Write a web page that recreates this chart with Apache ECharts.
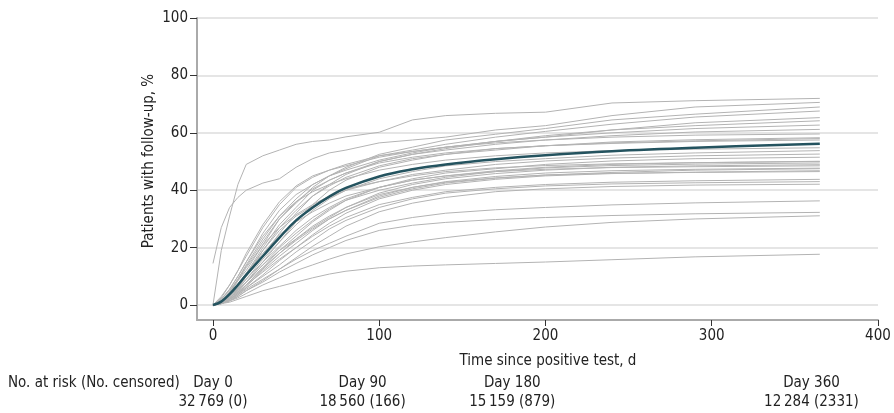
<!DOCTYPE html>
<html>
<head>
<meta charset="utf-8">
<script src="https://cdn.jsdelivr.net/npm/echarts@6/dist/echarts.min.js"></script>
<style>
html, body { margin: 0; padding: 0; background: #fff; }
#chart { width: 894px; height: 413px; }
</style>
</head>
<body>
<div id="chart"></div>
<script>
// days at which each curve is read
var days = [0, 5, 10, 15, 20, 30, 40, 50, 60, 70, 80, 100, 120, 140, 170, 200, 240, 290, 365];

// overall cumulative incidence (bold line)
var meanCurve = [0, 1.2, 3.8, 7, 10.5, 17, 23.5, 29.5, 34, 37.8, 40.8, 44.8, 47.3, 49, 50.8, 52.2, 53.6, 54.8, 56.2];

// individual site curves (grey)
var greyCurves = [
  [0, 19, 31, 42, 49, 52, 54, 56, 57, 57.5, 58.6, 60.2, 64.5, 66, 66.8, 67.2, 70.4, 71.2, 72],
  [14.5, 27, 34, 37.5, 40, 42.5, 44, 48, 51, 53, 54, 56.5, 57.5, 58.5, 61, 62.5, 66, 69, 70.6],
  [0, 2, 5, 9, 14, 23, 31, 37, 42, 45, 48, 52.5, 55, 57.5, 59.5, 61.5, 64.5, 66.5, 69],
  [0, 1.5, 4, 8.5, 12, 21, 30, 35.5, 41, 45, 47.5, 52, 54, 56, 58.5, 60.5, 63, 65.5, 67.6],
  [0, 3, 7, 12, 17, 27, 35, 41, 44.5, 47, 49, 52, 53.5, 55, 57, 58.5, 61, 63.5, 65.3],
  [0, 1, 3, 6, 10, 17, 25, 32, 38, 42, 45.5, 50, 52.5, 54.5, 57, 59, 61, 62.5, 64.2],
  [0, 2, 5.5, 10, 15, 25, 33, 38.5, 42, 45, 47, 50.5, 53, 55, 57, 58.5, 60, 61.5, 62.7],
  [0, 1, 3.5, 7, 11, 20, 28, 34, 40, 43.5, 46, 50, 52.5, 54, 56, 57.5, 59, 60.3, 61.2],
  [0, 2.5, 7, 12, 18, 28, 36, 41.5, 45, 47, 48.5, 51.5, 53.5, 55, 56.5, 57.5, 58.5, 59.2, 59.6],
  [0, 1, 2.5, 5, 8, 15, 22, 29, 35, 40, 43.5, 48, 50.5, 52.5, 54.5, 55.5, 56.8, 57.6, 58.3],
  [0, 1.5, 4.5, 9, 13.5, 22, 30, 36, 40.5, 43.5, 46, 49.5, 51.5, 53, 54.5, 55.5, 56.3, 57, 57.5],
  [0, 1, 3, 6, 10, 19, 27, 33, 38, 41.5, 44.5, 48.5, 51, 52.5, 54, 55.5, 56.5, 57.2, 58],
  [0, 1, 3, 6, 9, 16, 22, 28, 33, 37, 40, 44, 46.5, 48.5, 50, 51, 52.2, 53, 53.8],
  [0, 1.5, 4, 7.5, 11, 19, 26, 31, 34.5, 37.5, 40, 43, 45.5, 47, 49, 50.2, 51.2, 52, 52.6],
  [0, 0.5, 2, 4.5, 7, 13, 19, 24, 29, 33, 36.5, 41, 44, 46, 47.5, 49, 50.2, 51, 51.5],
  [0, 1, 3, 5.5, 9, 15, 20.5, 26, 30.5, 34, 37, 41, 43.5, 45, 46.8, 48, 49, 49.6, 50.1],
  [0, 0.5, 2.5, 5, 8, 14, 19, 23, 27, 30.5, 34, 39, 42, 44, 45.8, 47, 48, 48.5, 48.9],
  [0, 1, 3, 5.5, 8, 13, 18, 22.5, 26.5, 30, 33, 38, 41, 43, 44.8, 46, 46.8, 47.3, 47.7],
  [0, 0.5, 1.5, 3.5, 6, 10.5, 15.5, 20, 24.5, 28.5, 32, 37, 40, 42, 43.8, 45, 45.8, 46.3, 46.8],
  [0, 1, 2.5, 4.5, 7, 11.5, 16, 20, 24, 27.5, 30.5, 35, 37.5, 39.5, 41, 42, 42.8, 43.3, 43.8],
  [0, 0.5, 2, 4, 6, 10, 14, 18.5, 22.5, 26.5, 29.5, 34, 37, 39, 40.5, 41.5, 42.2, 42.6, 43],
  [0, 0.5, 1.5, 3, 5, 8.5, 12.5, 16.5, 20.5, 24, 27.5, 32.5, 35.5, 37.5, 39.5, 40.5, 41.3, 41.8, 42.1],
  [0, 1.5, 4.5, 8.5, 13, 21, 27, 31.5, 35, 38, 40.5, 43, 45, 46.5, 47.8, 48.6, 49.2, 49.6, 50],
  [0, 1, 3.5, 7, 11, 18, 24.5, 29, 32.5, 35.5, 38, 41, 43.5, 45, 46.5, 47.3, 47.9, 48.2, 48.5],
  [0, 0.5, 2, 4, 7, 12.5, 18, 23, 27.5, 31, 34, 38.5, 41, 42.8, 44.3, 45.3, 45.9, 46.2, 46.5],
  [0, 1, 2.5, 5, 8, 14, 20, 25, 29.5, 33.5, 36.5, 40, 42.5, 44.5, 46.5, 47.8, 48.6, 49.1, 49.5],
  [0, 2, 5.5, 10, 15, 24, 31, 36, 39.5, 42, 44, 47, 49, 50.5, 52, 53, 53.8, 54.3, 54.8],
  [0, 0.5, 2, 4, 6.5, 12, 17, 21.5, 26, 30, 33, 37.5, 40.5, 42.5, 44.2, 45.3, 46.2, 47, 47.5],
  [0, 0.5, 2, 3.5, 5.5, 9, 12.5, 16, 19, 21.5, 24, 28.5, 30.5, 32, 33.2, 34, 34.9, 35.6, 36.3],
  [0, 0.5, 1.5, 3, 5, 8, 11.5, 14.5, 17.5, 20, 22.5, 26, 27.8, 28.8, 29.8, 30.5, 31.2, 31.8, 32.3],
  [0, 0.5, 1.5, 2.5, 4, 7, 9.5, 12, 14, 16, 17.8, 20.3, 22, 23.5, 25.5, 27.2, 28.8, 30, 31.1],
  [0, 0.5, 1, 2, 3, 5, 6.5, 8, 9.5, 10.8, 11.8, 13, 13.6, 14, 14.5, 15, 15.8, 16.8, 17.7]
];

var xTicks = [0, 100, 200, 300, 400];
var yTicks = [0, 20, 40, 60, 80, 100];

var riskTitle = 'No. at risk (No. censored)';
var riskDays = [0, 90, 180, 360];
var riskHeads = ['Day 0', 'Day 90', 'Day 180', 'Day 360'];
var riskCounts = ['32\u2009769 (0)', '18\u2009560 (166)', '15\u2009159 (879)', '12\u2009284 (2331)'];

var FONT = "'Liberation Sans Narrow', 'DejaVu Sans Condensed', sans-serif";
var FS = 15;

var dom = document.getElementById('chart');
var myChart = echarts.init(dom, null, { renderer: 'canvas' });

function pairs(vals) {
  return days.map(function (d, i) { return [d, vals[i]]; });
}

var series = greyCurves.map(function (c) {
  return {
    type: 'line',
    data: pairs(c),
    showSymbol: false,
    silent: true,
    z: 2,
    lineStyle: { color: '#b3b3b3', width: 1 }
  };
});
series.push({
  type: 'line',
  data: pairs(meanCurve),
  showSymbol: false,
  smooth: 0.4,
  z: 3,
  lineStyle: { color: '#24535f', width: 2.5 }
});

var option = {
  animation: false,
  grid: { left: 197, right: 16, top: 18, bottom: 93, containLabel: false },
  xAxis: {
    type: 'value',
    min: -9.6,
    max: 400,
    axisLine: { onZero: false, lineStyle: { color: '#aaaaaa', width: 2 } },
    axisTick: { show: true, length: 6, customValues: xTicks, lineStyle: { color: '#333', width: 1 } },
    axisLabel: { customValues: xTicks, color: '#222', fontFamily: FONT, fontSize: FS, margin: 9 },
    splitLine: { show: false }
  },
  yAxis: {
    type: 'value',
    min: -5.2,
    max: 100,
    axisLine: { show: true, onZero: false, lineStyle: { color: '#aaaaaa', width: 2 } },
    axisTick: { show: true, length: 7, customValues: yTicks, lineStyle: { color: '#333', width: 1 } },
    axisLabel: { customValues: yTicks, color: '#222', fontFamily: FONT, fontSize: FS, margin: 9 },
    splitLine: { show: true, lineStyle: { color: '#dcdcdc', width: 1.5 } }
  },
  series: series
};

myChart.setOption(option);

// text under the plot, centred on the axis positions of the days
var graphics = [
  {
    type: 'text', x: 548, y: 361,
    style: { text: 'Time since positive test, d', fill: '#222', font: FS + 'px ' + FONT, textAlign: 'center', textVerticalAlign: 'middle' }
  },
  {
    type: 'text', x: 149, y: 161, rotation: Math.PI / 2,
    style: { text: 'Patients with follow-up, %', fill: '#222', font: FS + 'px ' + FONT, textAlign: 'center', textVerticalAlign: 'middle' }
  },
  {
    type: 'text', x: 8, y: 383,
    style: { text: riskTitle, fill: '#222', font: FS + 'px ' + FONT, textAlign: 'left', textVerticalAlign: 'middle' }
  }
];
riskDays.forEach(function (d, i) {
  var px = myChart.convertToPixel({ xAxisIndex: 0 }, d);
  graphics.push({
    type: 'text', x: px, y: 383,
    style: { text: riskHeads[i], fill: '#222', font: FS + 'px ' + FONT, textAlign: 'center', textVerticalAlign: 'middle' }
  });
  graphics.push({
    type: 'text', x: px, y: 402,
    style: { text: riskCounts[i], fill: '#222', font: FS + 'px ' + FONT, textAlign: 'center', textVerticalAlign: 'middle' }
  });
});
myChart.setOption({ graphic: graphics });

window.addEventListener('resize', myChart.resize);
</script>
</body>
</html>
